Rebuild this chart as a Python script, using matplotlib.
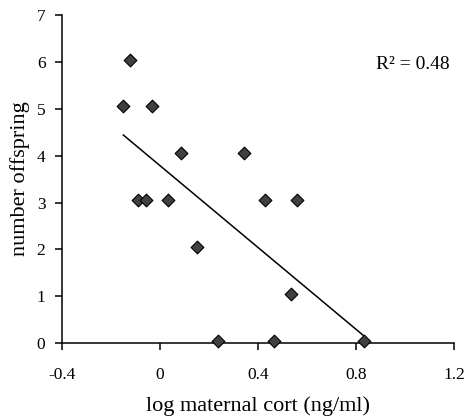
import numpy as np
import matplotlib
matplotlib.use('Agg')
import matplotlib.pyplot as plt

# log maternal cort vs number of offspring
log_cort = [-0.122, -0.150, -0.031, 0.087, 0.344, -0.091, -0.057, 0.034,
            0.427, 0.558, 0.152, 0.536, 0.235, 0.465, 0.833]
offspring = [6.05, 5.05, 5.05, 4.05, 4.05, 3.05, 3.05, 3.05,
             3.05, 3.05, 2.05, 1.05, 0.05, 0.05, 0.05]

x_ticks = [-0.4, 0, 0.4, 0.8, 1.2]
x_tick_labels = ['-0.4', '0', '0.4', '0.8', '1.2']
y_ticks = [0, 1, 2, 3, 4, 5, 6, 7]
r2_label = 'R² = 0.48'

plt.rcParams['font.family'] = ['Liberation Serif', 'DejaVu Serif']

fig = plt.figure(figsize=(4.67, 4.19), dpi=100)
ax = fig.add_axes([0.133, 0.181, 0.839, 0.783])

ax.scatter(log_cort, offspring, marker='D', s=42, facecolor='#404040',
           edgecolor='black', linewidth=0.8, zorder=3, clip_on=False)

# least squares line over the range of the data
slope, intercept = np.polyfit(log_cort, offspring, 1)
xs = np.array([min(log_cort), max(log_cort)])
ax.plot(xs, slope * xs + intercept, color='black', linewidth=1.1)

ax.set_xlim(-0.4, 1.2)
ax.set_ylim(0, 7)
ax.set_xticks(x_ticks)
ax.set_xticklabels(x_tick_labels)
ax.set_yticks(y_ticks)

for side in ['top', 'right']:
    ax.spines[side].set_visible(False)
for side in ['left', 'bottom']:
    ax.spines[side].set_linewidth(1.1)

ax.tick_params(direction='out', length=5, width=1.1, labelsize=12.5, colors='black')
ax.tick_params(axis='x', pad=12)
ax.tick_params(axis='y', pad=7)

ax.set_xlabel('log maternal cort (ng/ml)', fontsize=16, labelpad=10)
ax.set_ylabel('number offspring', fontsize=16, labelpad=5)

ax.text(0.99, 0.848, r2_label, transform=ax.transAxes, ha='right', va='center',
        fontsize=14)

fig.savefig('out.png', dpi=100)
